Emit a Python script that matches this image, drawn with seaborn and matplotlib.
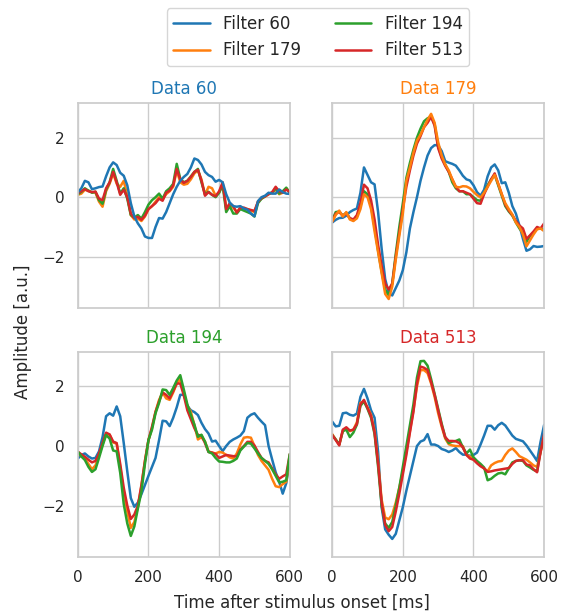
import numpy as np
import pandas as pd
import matplotlib
matplotlib.use("Agg")
import matplotlib.pyplot as plt
import seaborn as sns

# time axis (ms), one sample every 10 ms
time_ms = np.arange(0, 601, 10)

filter_names = ["Filter 60", "Filter 179", "Filter 194", "Filter 513"]
data_names = ["Data 60", "Data 179", "Data 194", "Data 513"]

# ---- Data 60 ----
d60_f60 = [0.16, 0.3, 0.55, 0.5, 0.27, 0.3, 0.34, 0.36, 0.7, 1.0, 1.17, 1.08, 0.82, 0.72, 0.4, -0.2,
           -0.65, -0.88, -1.05, -1.32, -1.37, -1.37, -1.0, -0.7, -0.72, -0.5, -0.2, 0.1, 0.35, 0.55, 0.68,
           0.78, 1.0, 1.3, 1.25, 1.1, 0.85, 0.74, 0.68, 0.52, 0.58, 0.5, 0.1, -0.18, -0.3, -0.32, -0.3,
           -0.38, -0.42, -0.55, -0.64, -0.13, 0.0, 0.05, 0.15, 0.12, 0.12, 0.26, 0.17, 0.12, 0.11]
d60_f179 = [0.08, 0.12, 0.25, 0.22, 0.17, 0.15, -0.15, -0.32, 0.2, 0.45, 0.8, 0.45, 0.35, 0.55, 0.05, -0.6,
            -0.75, -0.72, -0.8, -0.65, -0.4, -0.3, -0.15, 0.0, -0.08, 0.1, 0.2, 0.35, 0.9, 0.5, 0.42,
            0.45, 0.6, 0.8, 0.9, 0.6, 0.08, 0.35, 0.3, 0.05, 0.15, 0.45, -0.35, -0.25, -0.35, -0.5, -0.35,
            -0.38, -0.4, -0.45, -0.5, -0.15, -0.05, 0.02, 0.1, 0.15, 0.25, 0.1, 0.15, 0.3, 0.15]
d60_f194 = [0.1, 0.18, 0.3, 0.22, 0.15, 0.18, -0.1, -0.22, 0.25, 0.5, 0.95, 0.55, 0.12, 0.3, -0.05, -0.6,
            -0.68, -0.6, -0.72, -0.5, -0.25, -0.1, 0.0, 0.12, -0.05, 0.2, 0.3, 0.45, 1.12, 0.62, 0.5,
            0.55, 0.7, 0.85, 0.95, 0.5, 0.1, 0.18, 0.08, 0.0, 0.15, 0.4, -0.5, -0.3, -0.55, -0.55, -0.4,
            -0.45, -0.5, -0.55, -0.65, -0.2, -0.05, 0.03, 0.12, 0.15, 0.3, 0.12, 0.2, 0.32, 0.15]
d60_f513 = [0.14, 0.2, 0.27, 0.2, 0.17, 0.19, -0.05, -0.1, 0.3, 0.5, 0.85, 0.5, 0.08, 0.25, 0.0, -0.55,
            -0.7, -0.66, -0.76, -0.62, -0.4, -0.3, -0.2, -0.05, -0.12, 0.15, 0.22, 0.4, 0.95, 0.6, 0.48,
            0.55, 0.68, 0.85, 0.92, 0.55, 0.05, 0.17, 0.08, 0.03, 0.2, 0.5, -0.4, -0.2, -0.3, -0.52, -0.35,
            -0.35, -0.4, -0.43, -0.46, -0.15, -0.02, 0.03, 0.1, 0.17, 0.35, 0.2, 0.15, 0.26, 0.17]

# ---- Data 179 ----
d179_f60 = [-0.85, -0.76, -0.7, -0.69, -0.62, -0.5, -0.43, -0.38, 0.15, 1.0, 0.75, 0.5, 0.43, -0.5, -1.73,
            -2.75, -3.22, -3.3, -3.05, -2.8, -2.45, -1.85, -1.05, -0.5, 0.0, 0.55, 1.0, 1.4, 1.65, 1.75,
            1.74, 1.55, 1.21, 1.16, 1.12, 1.06, 0.9, 0.72, 0.6, 0.56, 0.4, 0.17, 0.05, 0.25, 0.7, 1.0,
            1.1, 0.9, 0.47, 0.5, 0.15, -0.3, -0.55, -0.95, -1.4, -1.8, -1.75, -1.64, -1.67, -1.66, -1.64]
d179_f179 = [-0.82, -0.6, -0.45, -0.65, -0.5, -0.75, -0.8, -0.71, -0.4, 0.1, 0.0, -0.4, -1.15, -1.85, -2.55,
             -3.25, -3.42, -3.0, -2.1, -1.3, -0.55, 0.55, 1.0, 1.5, 1.9, 2.1, 2.35, 2.6, 2.8, 2.5,
             1.85, 1.4, 1.1, 0.9, 0.6, 0.35, 0.33, 0.37, 0.36, 0.3, 0.18, 0.07, -0.01, 0.15, 0.35, 0.55,
             0.75, 0.45, 0.1, -0.2, -0.4, -0.58, -0.85, -1.0, -1.25, -1.65, -1.45, -1.25, -1.08, -1.05, -1.14]
d179_f194 = [-0.78, -0.5, -0.48, -0.62, -0.52, -0.72, -0.78, -0.65, -0.3, 0.2, 0.1, -0.3, -1.0, -1.8, -2.5,
             -3.1, -3.3, -2.9, -1.9, -1.0, -0.2, 0.65, 1.15, 1.6, 2.0, 2.3, 2.55, 2.65, 2.7, 2.45,
             1.7, 1.35, 1.1, 0.85, 0.5, 0.3, 0.2, 0.2, 0.1, 0.1, 0.0, -0.1, -0.12, 0.15, 0.4, 0.6,
             0.75, 0.4, 0.05, -0.3, -0.48, -0.62, -0.85, -1.05, -1.2, -1.5, -1.3, -1.2, -1.05, -1.05, -1.1]
d179_f513 = [-0.82, -0.55, -0.5, -0.62, -0.55, -0.7, -0.75, -0.6, -0.2, 0.42, 0.3, -0.1, -0.75, -1.6, -2.3,
             -2.9, -3.1, -2.9, -2.0, -1.2, -0.4, 0.35, 0.9, 1.4, 1.8, 2.05, 2.35, 2.5, 2.7, 2.4,
             1.65, 1.3, 1.05, 0.85, 0.6, 0.35, 0.2, 0.2, 0.15, 0.1, -0.05, -0.2, -0.22, 0.1, 0.35, 0.6,
             0.8, 0.45, 0.1, -0.25, -0.45, -0.6, -0.8, -0.95, -1.05, -1.4, -1.28, -1.15, -1.0, -1.05, -0.88]

# ---- Data 194 ----
d194_f60 = [-0.42, -0.3, -0.25, -0.35, -0.42, -0.4, -0.18, 0.3, 1.0, 1.1, 1.02, 1.33, 1.0, 0.1, -0.85,
            -1.75, -2.04, -1.9, -1.62, -1.31, -1.0, -0.7, -0.4, 0.2, 0.85, 0.83, 0.67, 0.95, 1.3, 1.72,
            1.72, 1.35, 1.2, 1.14, 1.04, 0.78, 0.57, 0.42, 0.15, 0.18, 0.0, -0.17, 0.0, 0.14, 0.22, 0.28,
            0.35, 0.5, 0.95, 1.05, 1.1, 0.95, 0.82, 0.7, 0.0, -0.45, -0.88, -1.2, -1.6, -1.25, -0.5]
d194_f179 = [-0.2, -0.35, -0.42, -0.6, -0.78, -0.65, -0.3, 0.05, 0.4, 0.38, 0.12, 0.08, -0.7, -1.6, -2.2,
             -2.75, -2.55, -2.05, -1.35, -0.5, 0.2, 0.6, 1.15, 1.55, 1.8, 1.6, 1.55, 1.8, 2.1, 2.25,
             1.8, 1.35, 1.15, 0.7, 0.22, 0.3, 0.15, -0.18, -0.22, -0.25, -0.2, -0.22, -0.3, -0.38, -0.42,
             -0.25, 0.05, 0.28, 0.3, 0.28, 0.0, -0.3, -0.5, -0.65, -0.8, -1.1, -1.35, -1.38, -1.28, -1.2, -0.38]
d194_f194 = [-0.19, -0.35, -0.47, -0.7, -0.87, -0.78, -0.4, 0.0, 0.37, 0.25, -0.15, -0.18, -0.9, -1.95, -2.6,
             -3.02, -2.7, -2.1, -1.54, -0.6, 0.2, 0.55, 1.1, 1.45, 1.9, 1.88, 1.72, 1.95, 2.2, 2.38,
             1.9, 1.4, 1.05, 0.72, 0.31, 0.38, 0.15, -0.2, -0.25, -0.4, -0.52, -0.53, -0.55, -0.55, -0.5,
             -0.42, -0.15, -0.02, 0.1, 0.08, -0.08, -0.25, -0.4, -0.5, -0.6, -0.78, -1.0, -1.22, -1.2, -1.15, -0.27]
d194_f513 = [-0.19, -0.28, -0.36, -0.46, -0.55, -0.5, -0.25, 0.1, 0.45, 0.39, 0.15, 0.1, -0.6, -1.4, -2.0,
             -2.45, -2.3, -2.0, -1.31, -0.5, 0.2, 0.65, 1.15, 1.5, 1.8, 1.72, 1.6, 1.85, 2.1, 2.1,
             1.7, 1.2, 0.9, 0.6, 0.37, 0.35, 0.1, -0.2, -0.22, -0.27, -0.4, -0.35, -0.3, -0.32, -0.34,
             -0.35, -0.12, 0.0, 0.14, 0.14, 0.02, -0.2, -0.4, -0.5, -0.55, -0.75, -0.95, -1.1, -1.02, -0.95, -0.27]

# ---- Data 513 ----
d513_f60 = [0.82, 0.66, 0.68, 1.1, 1.12, 1.05, 1.02, 1.09, 1.65, 1.92, 1.6, 1.2, 0.95, -0.2, -2.06,
            -2.8, -2.98, -3.12, -2.95, -2.5, -2.05, -1.5, -1.0, -0.5, 0.0, 0.15, 0.2, 0.4, 0.05, 0.05,
            0.0, -0.1, -0.14, -0.2, -0.15, -0.07, -0.2, -0.29, -0.29, -0.33, -0.3, -0.22, 0.05, 0.35, 0.68,
            0.68, 0.55, 0.7, 0.78, 0.69, 0.52, 0.35, 0.24, 0.2, 0.16, 0.02, -0.15, -0.32, -0.5, 0.15, 0.71]
d513_f179 = [0.4, 0.22, 0.05, 0.5, 0.6, 0.5, 0.55, 0.8, 1.45, 1.5, 1.3, 1.05, 0.5, -0.55, -1.8,
             -2.4, -2.46, -2.3, -1.9, -1.4, -0.85, -0.2, 0.5, 1.2, 2.0, 2.55, 2.55, 2.45, 2.1, 1.65,
             1.1, 0.65, 0.25, 0.06, 0.02, 0.0, 0.0, 0.0, -0.3, -0.35, -0.45, -0.55, -0.65, -0.75, -0.85,
             -0.65, -0.57, -0.52, -0.5, -0.3, -0.15, -0.08, -0.2, -0.34, -0.4, -0.46, -0.55, -0.65, -0.7, -0.2, 0.3]
d513_f194 = [0.37, 0.22, 0.05, 0.5, 0.55, 0.3, 0.45, 0.72, 1.35, 1.5, 1.25, 0.95, 0.4, -0.7, -2.0,
             -2.6, -2.75, -2.55, -2.0, -1.4, -0.7, 0.0, 0.7, 1.4, 2.3, 2.85, 2.86, 2.7, 2.25, 1.75,
             1.25, 0.75, 0.3, 0.1, 0.15, 0.17, 0.22, -0.05, -0.25, -0.12, -0.38, -0.5, -0.6, -0.72, -1.15,
             -1.1, -1.0, -0.92, -0.9, -0.95, -0.75, -0.55, -0.5, -0.48, -0.5, -0.65, -0.72, -0.8, -0.85, -0.15, 0.3]
d513_f513 = [0.37, 0.2, 0.02, 0.55, 0.63, 0.52, 0.55, 0.74, 1.4, 1.55, 1.28, 1.0, 0.45, -0.6, -1.9,
             -2.65, -2.86, -2.72, -2.2, -1.6, -0.95, -0.3, 0.45, 1.15, 2.1, 2.67, 2.63, 2.55, 2.15, 1.72,
             1.2, 0.7, 0.3, 0.17, 0.17, 0.16, 0.1, -0.05, -0.3, -0.42, -0.46, -0.58, -0.68, -0.75, -0.87,
             -0.85, -0.82, -0.8, -0.78, -0.76, -0.74, -0.6, -0.5, -0.48, -0.48, -0.62, -0.65, -0.78, -0.88, -0.2, 0.4]

panels = {
    "Data 60": [d60_f60, d60_f179, d60_f194, d60_f513],
    "Data 179": [d179_f60, d179_f179, d179_f194, d179_f513],
    "Data 194": [d194_f60, d194_f179, d194_f194, d194_f513],
    "Data 513": [d513_f60, d513_f179, d513_f194, d513_f513],
}

sns.set_theme(style="whitegrid")
plt.rcParams["font.family"] = ["DejaVu Sans"]
colors = sns.color_palette("tab10", 4)

fig, axes = plt.subplots(2, 2, figsize=(5.68, 6.15), dpi=100, sharex=True, sharey=True)
fig.subplots_adjust(left=0.137, right=0.958, top=0.833, bottom=0.094, wspace=0.2, hspace=0.21)

for k, (ax, dname) in enumerate(zip(axes.flat, data_names)):
    series = panels[dname]
    # matched filter drawn last so it sits on top
    order = [i for i in range(4) if i != k] + [k]
    for i in order:
        sns.lineplot(x=time_ms, y=series[i], ax=ax, color=colors[i], lw=1.8,
                     label=filter_names[i], legend=False)
    ax.set_title(dname, color=colors[k], fontsize=12)
    ax.set_xlim(0, 600)
    ax.set_xticks([0, 200, 400, 600])
    ax.set_yticks([-2, 0, 2])
    ax.tick_params(labelsize=11)
    ax.set_xlabel("")
    ax.set_ylabel("")

handles, labels = axes[0, 0].get_legend_handles_labels()
lookup = dict(zip(labels, handles))
fig.legend([lookup[n] for n in filter_names], filter_names, loc="upper center",
           bbox_to_anchor=(0.56, 1.0), ncol=2, fontsize=12, frameon=True,
           columnspacing=2.0, handlelength=2.2)

fig.text(0.532, 0.005, "Time after stimulus onset [ms]", ha="center", va="bottom", fontsize=12)
fig.text(0.024, 0.46, "Amplitude [a.u.]", rotation=90, ha="left", va="center", fontsize=12)

fig.savefig("out.png", dpi=100)
